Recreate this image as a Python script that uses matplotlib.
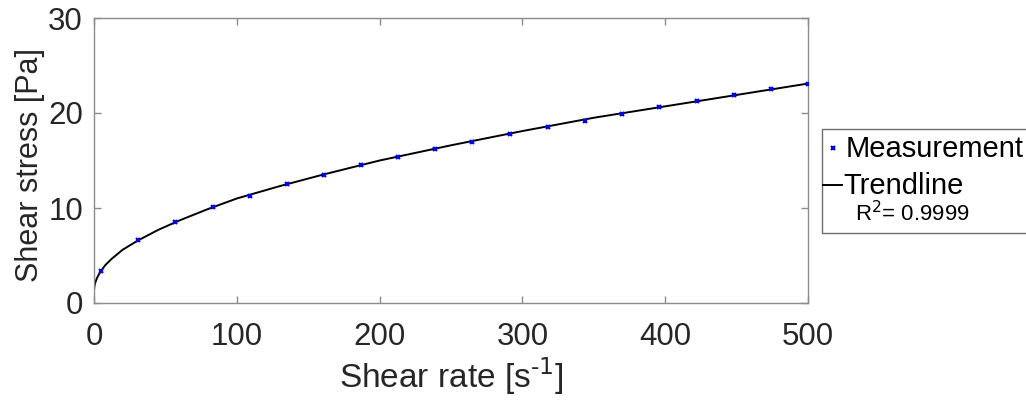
import matplotlib
matplotlib.use("Agg")
import matplotlib.pyplot as plt
from matplotlib.lines import Line2D
from matplotlib.patches import Rectangle

plt.rcParams['font.family'] = ['Liberation Sans', 'DejaVu Sans']

shear_rate = [5, 31, 57, 83, 109, 135, 161, 187, 213, 239,
              265, 291, 318, 344, 370, 396, 422, 448, 474, 500]
shear_stress = [3.4, 6.6, 8.5, 10.1, 11.3, 12.5, 13.5, 14.5, 15.4, 16.2,
                17.0, 17.8, 18.5, 19.2, 19.9, 20.6, 21.3, 21.9, 22.5, 23.1]

# Trendline
trend_x = [0, 0.25, 0.5, 1, 2, 3, 5, 8, 12, 20, 31, 45, 60, 80, 100, 130,
           160, 200, 250, 300, 350, 400, 450, 500]
trend_y = [1.3, 1.7, 1.9, 2.2, 2.6, 2.9, 3.4, 4.0, 4.6, 5.6, 6.6, 7.7, 8.7,
           9.9, 11.0, 12.3, 13.5, 15.0, 16.6, 18.1, 19.5, 20.7, 21.9, 23.1]

x_ticks = [0, 100, 200, 300, 400, 500]
y_ticks = [0, 10, 20, 30]

W, H = 1026, 409
fig = plt.figure(figsize=(W / 100, H / 100), dpi=100)
ax = fig.add_axes([94 / W, 1 - 303 / H, (808 - 94) / W, (303 - 18) / H])

spine_c = '#8c8c8c'
text_c = '#262626'

ax.plot(trend_x, trend_y, color='black', lw=1.4, zorder=2)
ax.plot(shear_rate, shear_stress, linestyle='none', marker='x', color='#0000ff',
        ms=3.5, mew=1.5, zorder=3)

ax.set_xlim(0, 500)
ax.set_ylim(0, 30)
ax.set_xticks(x_ticks)
ax.set_yticks(y_ticks)
for s in ax.spines.values():
    s.set_color(spine_c)
    s.set_linewidth(1.0)
ax.tick_params(direction='in', top=True, right=True, length=5, width=1.0,
               colors=spine_c, labelcolor=text_c, labelsize=22.5)
ax.tick_params(axis='x', pad=14)
ax.tick_params(axis='y', pad=8)
ax.set_xlabel('Shear rate [s$^{\\text{-1}}$]', fontsize=24, color=text_c, labelpad=2)
ax.set_ylabel('Shear stress [Pa]', fontsize=22, color=text_c, labelpad=3)
ax.yaxis.set_label_coords(-0.068, 0.485)

# Legend drawn outside to the right
fig.patches.append(Rectangle((822 / W, 1 - 233 / H), (1030 - 822) / W, (233 - 129) / H,
                             transform=fig.transFigure, fill=False,
                             edgecolor='#6e6e6e', lw=1.0))
fig.lines.append(Line2D([833 / W], [1 - 148 / H], transform=fig.transFigure,
                        marker='x', color='#0000ff', ms=3.5, mew=1.5, linestyle='none'))
fig.text(846 / W, 1 - 149 / H, 'Measurement', fontsize=21, color='black',
         va='center', ha='left')
fig.lines.append(Line2D([823 / W, 842 / W], [1 - 185 / H, 1 - 185 / H],
                        transform=fig.transFigure, color='black', lw=1.4))
fig.text(843 / W, 1 - 186 / H, 'Trendline', fontsize=21, color='black',
         va='center', ha='left')
fig.text(855 / W, 1 - 214 / H, 'R$^2$= 0.9999', fontsize=16, color='black',
         va='center', ha='left', family=['Liberation Sans Narrow', 'Liberation Sans'])

fig.savefig('out.png', dpi=100)
